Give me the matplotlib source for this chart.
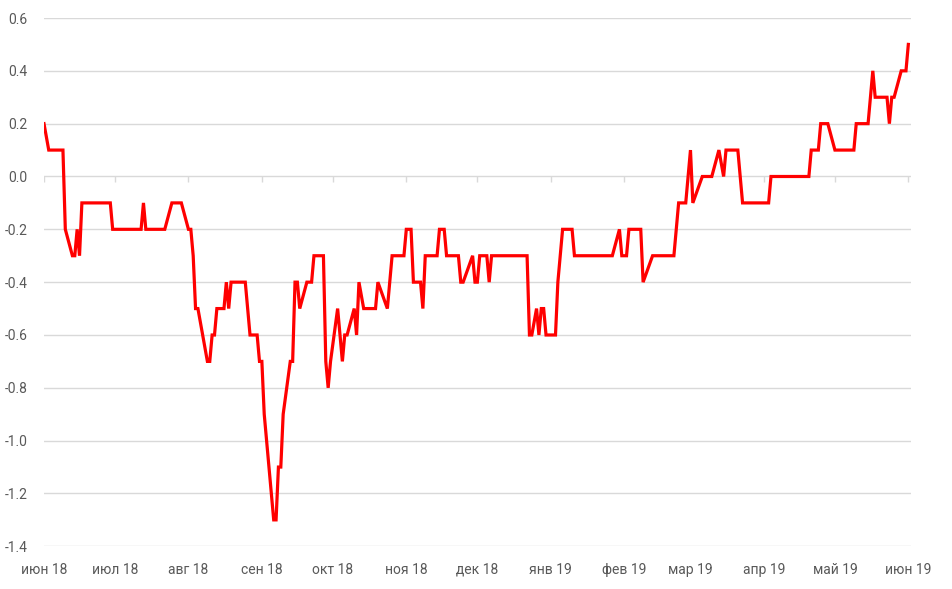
import matplotlib
matplotlib.use("Agg")
import matplotlib.pyplot as plt
import numpy as np
import pandas as pd

# ── Data ────────────────────────────────────────────────────────────────────
dates = [
    "2018-06-01", "2018-06-03", "2018-06-09", "2018-06-10", "2018-06-13",
    "2018-06-14", "2018-06-15", "2018-06-16", "2018-06-17", "2018-06-29",
    "2018-06-30", "2018-07-12", "2018-07-13", "2018-07-14", "2018-07-22",
    "2018-07-25", "2018-07-29", "2018-08-01", "2018-08-02", "2018-08-03",
    "2018-08-04", "2018-08-05", "2018-08-09", "2018-08-10", "2018-08-11",
    "2018-08-12", "2018-08-13", "2018-08-16", "2018-08-17", "2018-08-18",
    "2018-08-19", "2018-08-25", "2018-08-27", "2018-08-30", "2018-08-31",
    "2018-09-01", "2018-09-02", "2018-09-03", "2018-09-06", "2018-09-07",
    "2018-09-08", "2018-09-09", "2018-09-10", "2018-09-13", "2018-09-14",
    "2018-09-15", "2018-09-16", "2018-09-17", "2018-09-20", "2018-09-22",
    "2018-09-23", "2018-09-27", "2018-09-28", "2018-09-29", "2018-09-30",
    "2018-10-03", "2018-10-05", "2018-10-06", "2018-10-07", "2018-10-10",
    "2018-10-11", "2018-10-12", "2018-10-14", "2018-10-19", "2018-10-20",
    "2018-10-24", "2018-10-26", "2018-10-31", "2018-11-01", "2018-11-03",
    "2018-11-04", "2018-11-07", "2018-11-08", "2018-11-09", "2018-11-14",
    "2018-11-15", "2018-11-17", "2018-11-18", "2018-11-23", "2018-11-24",
    "2018-11-25", "2018-11-29", "2018-11-30", "2018-12-01", "2018-12-02",
    "2018-12-05", "2018-12-06", "2018-12-07", "2018-12-22", "2018-12-23",
    "2018-12-24", "2018-12-26", "2018-12-27", "2018-12-28", "2018-12-29",
    "2018-12-30", "2019-01-03", "2019-01-04", "2019-01-06", "2019-01-10",
    "2019-01-11", "2019-01-27", "2019-01-30", "2019-01-31", "2019-02-02",
    "2019-02-03", "2019-02-08", "2019-02-09", "2019-02-13", "2019-02-22",
    "2019-02-24", "2019-02-27", "2019-03-01", "2019-03-02", "2019-03-06",
    "2019-03-10", "2019-03-13", "2019-03-15", "2019-03-16", "2019-03-21",
    "2019-03-23", "2019-04-03", "2019-04-04", "2019-04-20", "2019-04-21",
    "2019-04-24", "2019-04-25", "2019-04-28", "2019-05-01", "2019-05-09",
    "2019-05-10", "2019-05-15", "2019-05-17", "2019-05-18", "2019-05-23",
    "2019-05-24", "2019-05-25", "2019-05-26", "2019-05-29", "2019-05-31",
    "2019-06-01",
]
values = [
    0.2, 0.1, 0.1, -0.2, -0.3,
    -0.3, -0.2, -0.3, -0.1, -0.1,
    -0.2, -0.2, -0.1, -0.2, -0.2,
    -0.1, -0.1, -0.2, -0.2, -0.3,
    -0.5, -0.5, -0.7, -0.7, -0.6,
    -0.6, -0.5, -0.5, -0.4, -0.5,
    -0.4, -0.4, -0.6, -0.6, -0.7,
    -0.7, -0.9, -1.0, -1.3, -1.3,
    -1.1, -1.1, -0.9, -0.7, -0.7,
    -0.4, -0.4, -0.5, -0.4, -0.4,
    -0.3, -0.3, -0.7, -0.8, -0.7,
    -0.5, -0.7, -0.6, -0.6, -0.5,
    -0.6, -0.4, -0.5, -0.5, -0.4,
    -0.5, -0.3, -0.3, -0.2, -0.2,
    -0.4, -0.4, -0.5, -0.3, -0.3,
    -0.2, -0.2, -0.3, -0.3, -0.4,
    -0.4, -0.3, -0.4, -0.4, -0.3,
    -0.3, -0.4, -0.3, -0.3, -0.6,
    -0.6, -0.5, -0.6, -0.5, -0.5,
    -0.6, -0.6, -0.4, -0.2, -0.2,
    -0.3, -0.3, -0.2, -0.3, -0.3,
    -0.2, -0.2, -0.4, -0.3, -0.3,
    -0.1, -0.1, 0.1, -0.1, 0.0,
    0.0, 0.1, 0.0, 0.1, 0.1,
    -0.1, -0.1, 0.0, 0.0, 0.1,
    0.1, 0.2, 0.2, 0.1, 0.1,
    0.2, 0.2, 0.4, 0.3, 0.3,
    0.2, 0.3, 0.3, 0.4, 0.4,
    0.5,
]

month_ticks = pd.date_range("2018-06-01", "2019-06-01", freq="MS")
month_labels = ["июн 18", "июл 18", "авг 18", "сен 18", "окт 18", "ноя 18",
                "дек 18", "янв 19", "фев 19", "мар 19", "апр 19", "май 19",
                "июн 19"]
y_ticks = np.round(np.arange(-1.4, 0.61, 0.2), 1) + 0.0

GRID = "#d9d9d9"
TEXT = "#595959"

plt.rcParams["font.family"] = ["Roboto", "DejaVu Sans"]

x = pd.to_datetime(dates)

fig = plt.figure(figsize=(9.53, 5.89), dpi=100)
ax = fig.add_axes([44 / 953, 1 - 546.3 / 589, (910.7 - 44) / 953,
                   (546.3 - 18) / 589])

ax.plot(x, values, color="#ff0000", linewidth=2.3, solid_joinstyle="miter",
        zorder=3)

ax.set_ylim(-1.4, 0.6)
ax.set_xlim(pd.Timestamp("2018-06-01"), pd.Timestamp("2019-06-02"))
ax.set_yticks(y_ticks)
ax.set_yticklabels([f"{abs(v):.1f}" if abs(v) < 1e-9 else f"{v:.1f}"
                    for v in y_ticks])
ax.yaxis.grid(True, color=GRID, linewidth=1.0)
ax.set_axisbelow(True)

ax.set_xticks(month_ticks)
ax.set_xticklabels(month_labels)

# small tick marks hanging from the zero line
ax.vlines(month_ticks, -0.02, 0, color=GRID, linewidth=1.0, zorder=2)

for s in ax.spines.values():
    s.set_visible(False)
ax.tick_params(axis="both", length=0, labelsize=10, colors=TEXT)
ax.tick_params(axis="y", pad=12)
ax.tick_params(axis="x", pad=12)

fig.savefig("out.png", dpi=100)
